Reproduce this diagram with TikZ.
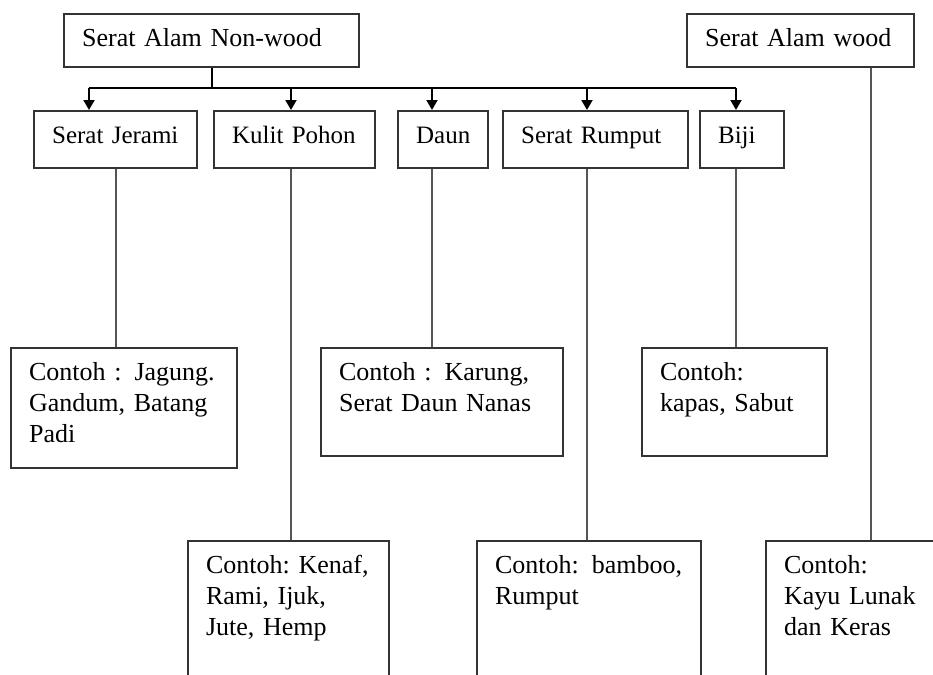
\documentclass[tikz,border=0pt]{standalone}
\usepackage{fontspec}
\setmainfont{Liberation Serif}
\usetikzlibrary{arrows.meta}
\definecolor{framegray}{HTML}{333333}
\definecolor{linkgray}{HTML}{555555}
\tikzset{
	box/.style={draw=framegray, line width=1.1pt, anchor=north west, align=left,
		inner xsep=9pt, inner ysep=6pt, text height=10pt,
		font=\fontsize{13}{15.5}\selectfont},
	subbox/.style={box, text depth=6.5pt, font=\fontsize{12.5}{15}\selectfont},
	bus/.style={line width=1pt, black},
	arr/.style={bus, -{Triangle[width=5.5pt,length=5pt]}},
	link/.style={line width=0.7pt, linkgray}
}
\begin{document}
\begin{tikzpicture}[x=0.5pt,y=-0.5pt]
		\useasboundingbox (0,0) rectangle (933,675);
		\clip (0,0) rectangle (933,675);
		% top row
		\node [box, text width=129.5pt, text depth=4.5pt] (nonwood) at (63,13) {Serat Alam Non-wood};
		\node [box, text width=95.5pt, text depth=4.5pt] (wood) at (686,13) {Serat~Alam~wood};
		% second row
		\node [subbox, text width=63.5pt] (jerami) at (33,110) {Serat~Jerami};
		\node [subbox, text width=62.5pt] (kulit) at (213,110) {Kulit Pohon};
		\node [subbox, text width=27pt] (daun) at (397,110) {Daun};
		\node [subbox, text width=74.5pt] (rumput) at (502,110) {Serat Rumput};
		\node [subbox, text width=24pt] (biji) at (699,110) {Biji};
		% examples
		\node [box, text width=95pt, text depth=38pt] (jagung) at (10,347) {Contoh : Jagung.\\Gandum, Batang\\Padi};
		\node [box, text width=103pt, text depth=32pt] (karung) at (320,347) {Contoh : Karung,\\Serat Daun Nanas};
		\node [box, text width=74.5pt, text depth=32pt] (kapas) at (641,347) {Contoh:\\kapas, Sabut};
		\node [box, text width=82.5pt, text depth=58pt] (kenaf) at (187,540) {Contoh:~Kenaf,\\Rami, Ijuk,\\Jute, Hemp};
		\node [box, text width=94pt, text depth=58pt] (bamboo) at (476,540) {Contoh: bamboo,\\Rumput};
		\node [box, text width=79.5pt, text depth=58pt] (kayu) at (765,540) {Contoh:\\Kayu Lunak\\dan Keras};
		% branching
		\coordinate (busL) at (89,88);
		\coordinate (busR) at (736,88);
		\draw [bus] (nonwood.south) -- (nonwood.south |- busL);
		\draw [bus] (busL) -- (busR);
		\foreach \n/\x in {jerami/89, kulit/291, daun/432, rumput/587, biji/736}
			\draw [arr] (\x,88) -- (\x,0 |- \n.north);
		% links to examples
		\foreach \a/\b/\x in {jerami/jagung/116, kulit/kenaf/291, daun/karung/432, rumput/bamboo/587, biji/kapas/736, wood/kayu/871}
			\draw [link] (\x,0 |- \a.south) -- (\x,0 |- \b.north);
	\end{tikzpicture}
\end{document}
